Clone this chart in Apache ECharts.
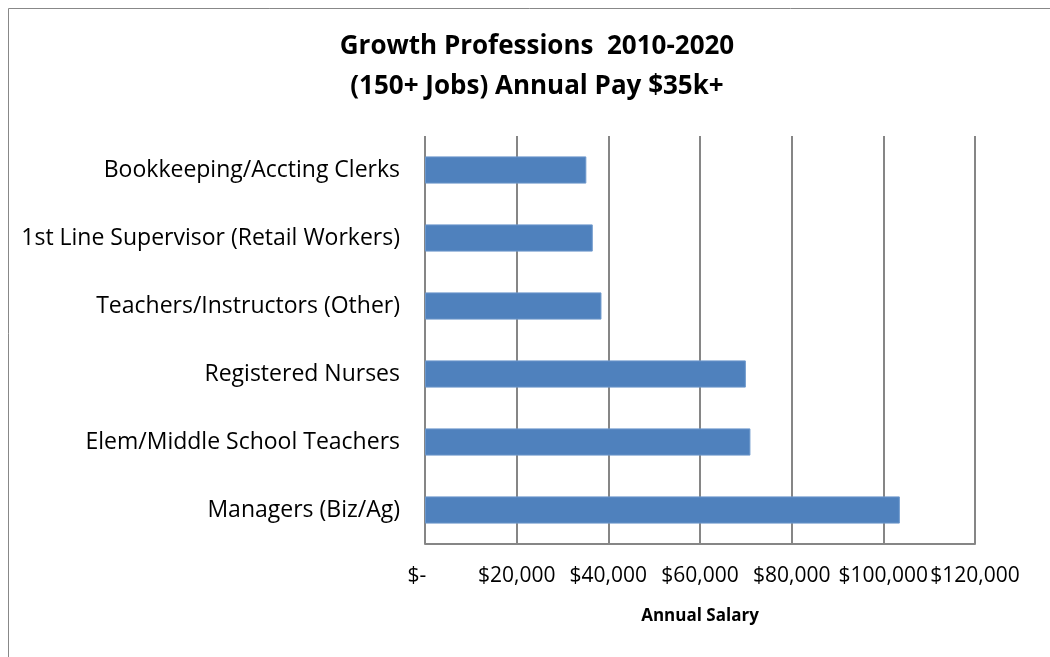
<!DOCTYPE html>
<html>
<head>
<meta charset="utf-8">
<script src="https://cdn.jsdelivr.net/npm/echarts@6/dist/echarts.min.js"></script>
<style>
  html, body { margin: 0; padding: 0; background: #fff; }
  #chart { width: 1050px; height: 657px; }
</style>
</head>
<body>
<div id="chart"></div>
<script>
// Occupations, listed bottom-to-top as drawn on the category axis
const professions = [
  'Managers (Biz/Ag)',
  'Elem/Middle School Teachers',
  'Registered Nurses',
  'Teachers/Instructors (Other)',
  '1st Line Supervisor (Retail Workers)',
  'Bookkeeping/Accting Clerks'
];
// Annual pay in dollars
const annualPay = [103600, 71000, 70000, 38500, 36600, 35200];
// Salary axis range
const salaryMin = 0;
const salaryMax = 120000;
const salaryStep = 20000;

const titleLines = ['Growth Professions  2010-2020', '(150+ Jobs) Annual Pay $35k+'];
const font = '"Open Sans", "Liberation Sans", Arial, sans-serif';

function money(v) {
  if (v === 0) return '$-   ';
  return '$' + v.toLocaleString('en-US');
}

const chart = echarts.init(document.getElementById('chart'), null, { renderer: 'canvas' });
chart.setOption({
  backgroundColor: '#ffffff',
  animation: false,
  title: {
    text: titleLines.join('\n'),
    left: 532,
    top: 22,
    textAlign: 'center',
    textStyle: {
      fontFamily: font,
      fontWeight: 'bold',
      fontSize: 26,
      lineHeight: 40,
      color: '#000'
    }
  },
  graphic: [{
    type: 'rect',
    shape: { x: 8.5, y: 8.5, width: 1100, height: 700 },
    style: { fill: 'none', stroke: '#888', lineWidth: 1 },
    silent: true
  }],
  grid: { left: 425, right: 75, top: 136, bottom: 113, containLabel: false },
  xAxis: {
    type: 'value',
    min: salaryMin,
    max: salaryMax,
    interval: salaryStep,
    name: 'Annual Salary',
    nameLocation: 'middle',
    nameGap: 64,
    nameTextStyle: { fontFamily: font, fontWeight: 'bold', fontSize: 17, color: '#000' },
    axisLine: { show: true, lineStyle: { color: '#868686', width: 2 } },
    axisTick: { show: false },
    axisLabel: {
      formatter: money,
      margin: 22,
      fontFamily: font,
      fontSize: 21,
      color: '#000',
      showMinLabel: true,
      showMaxLabel: true,
      hideOverlap: false
    },
    splitLine: { show: true, lineStyle: { color: '#868686', width: 2 } }
  },
  yAxis: {
    type: 'category',
    data: professions,
    axisLine: { show: false },
    axisTick: { show: false },
    axisLabel: {
      margin: 25,
      fontFamily: font,
      fontSize: 23,
      color: '#000'
    }
  },
  series: [{
    type: 'bar',
    data: annualPay,
    barCategoryGap: '60%',
    itemStyle: { color: '#4f81bd', borderColor: '#6d98cc', borderWidth: 1 }
  }]
});
</script>
</body>
</html>
